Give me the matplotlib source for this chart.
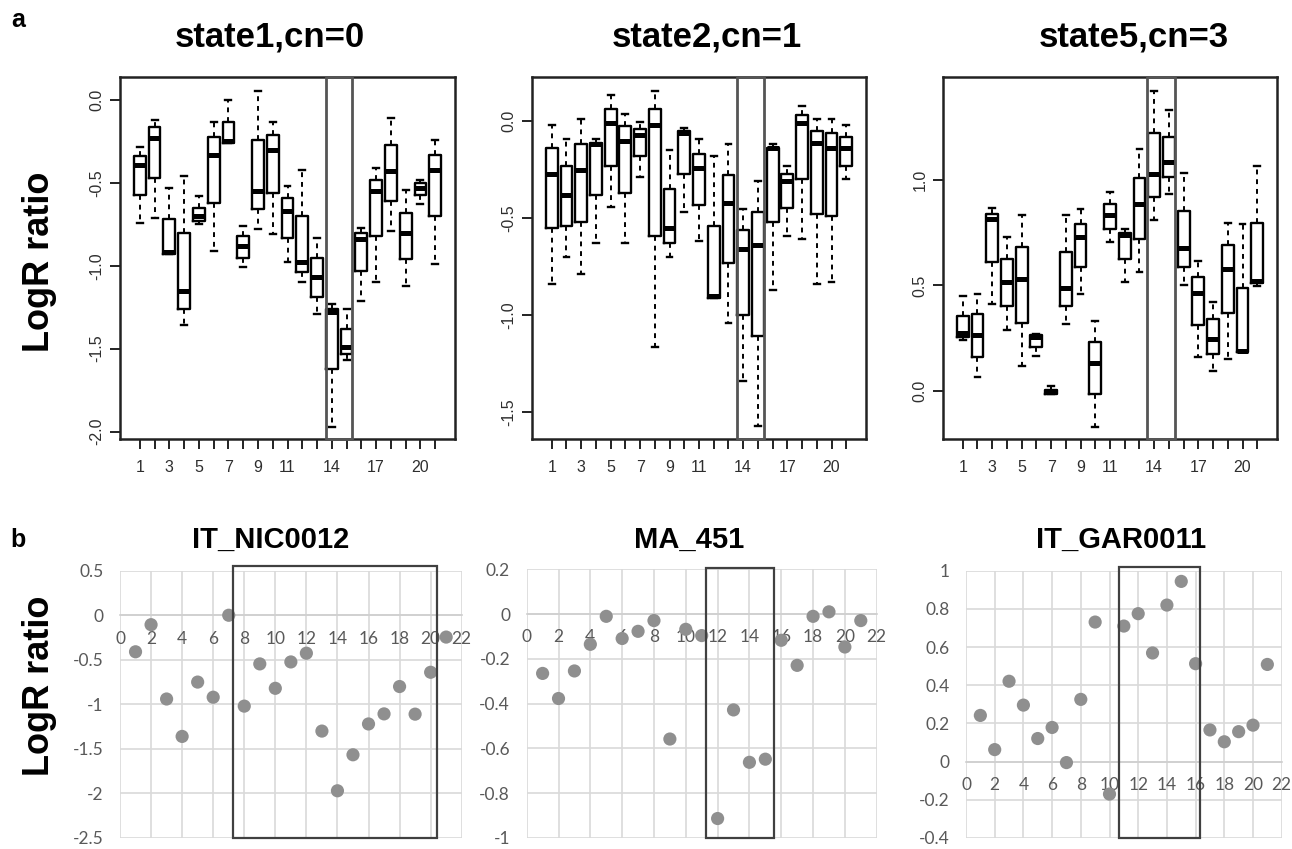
import matplotlib
matplotlib.use("Agg")
import matplotlib.pyplot as plt
import matplotlib.transforms as mtransforms
from matplotlib.patches import Rectangle

W, H = 1292, 849

positions = [1, 2, 3, 4, 5, 6, 7, 8, 9, 10, 11, 12, 13, 14, 15, 16, 17, 18, 19, 20, 21]
box_tick_labels = ['1', '', '3', '', '5', '', '7', '', '9', '', '11', '', '',
                   '14', '', '', '17', '', '', '20', '']

# a) boxplots, state1,cn=0
s1_lo = [-0.74, -0.71, -0.93, -1.36, -0.75, -0.91, -0.26, -1.01, -0.78, -0.81, -0.98,
         -1.10, -1.29, -1.97, -1.57, -1.21, -1.10, -0.79, -1.12, -0.63, -0.99]
s1_q1 = [-0.57, -0.47, -0.93, -1.26, -0.73, -0.62, -0.26, -0.95, -0.66, -0.56, -0.83,
         -1.04, -1.19, -1.62, -1.53, -1.03, -0.82, -0.61, -0.96, -0.57, -0.70]
s1_med = [-0.39, -0.23, -0.915, -1.15, -0.70, -0.33, -0.25, -0.88, -0.55, -0.30, -0.67,
          -0.975, -1.07, -1.28, -1.49, -0.84, -0.55, -0.43, -0.80, -0.53, -0.42]
s1_q3 = [-0.34, -0.165, -0.72, -0.80, -0.65, -0.22, -0.13, -0.82, -0.24, -0.21, -0.59,
         -0.70, -0.95, -1.26, -1.38, -0.80, -0.48, -0.27, -0.68, -0.50, -0.33]
s1_hi = [-0.285, -0.12, -0.53, -0.46, -0.58, -0.13, 0.0, -0.76, 0.056, -0.13, -0.52,
         -0.42, -0.83, -1.23, -1.26, -0.77, -0.41, -0.11, -0.54, -0.48, -0.24]

# state2,cn=1
s2_lo = [-0.84, -0.70, -0.79, -0.63, -0.44, -0.63, -0.29, -1.165, -0.70, -0.47, -0.62,
         -0.91, -1.04, -1.34, -1.57, -0.87, -0.59, -0.61, -0.84, -0.83, -0.30]
s2_q1 = [-0.55, -0.54, -0.52, -0.38, -0.23, -0.37, -0.18, -0.59, -0.63, -0.27, -0.43,
         -0.91, -0.73, -1.00, -1.11, -0.52, -0.45, -0.30, -0.48, -0.49, -0.23]
s2_med = [-0.27, -0.38, -0.25, -0.12, -0.01, -0.10, -0.07, -0.017, -0.55, -0.06, -0.24,
          -0.90, -0.42, -0.66, -0.64, -0.14, -0.31, -0.01, -0.11, -0.14, -0.14]
s2_q3 = [-0.14, -0.23, -0.12, -0.11, 0.062, -0.026, -0.04, 0.062, -0.35, -0.05, -0.17,
         -0.54, -0.275, -0.56, -0.47, -0.136, -0.27, 0.034, -0.05, -0.063, -0.08]
s2_hi = [-0.017, -0.09, 0.009, -0.09, 0.134, 0.039, -0.003, 0.156, -0.15, -0.033, -0.09,
         -0.18, -0.12, -0.455, -0.31, -0.118, -0.23, 0.077, 0.009, 0.009, -0.021]

# state5,cn=3
s5_lo = [0.242, 0.065, 0.41, 0.29, 0.118, 0.167, -0.015, 0.318, 0.46, -0.172, 0.705,
         0.518, 0.562, 0.81, 0.934, 0.502, 0.16, 0.096, 0.152, 0.186, 0.498]
s5_q1 = [0.254, 0.16, 0.613, 0.403, 0.324, 0.21, -0.014, 0.403, 0.589, -0.014, 0.768,
         0.624, 0.719, 0.921, 1.013, 0.589, 0.31, 0.174, 0.368, 0.186, 0.51]
s5_med = [0.276, 0.265, 0.814, 0.518, 0.531, 0.257, -0.003, 0.49, 0.728, 0.131, 0.834,
          0.739, 0.886, 1.028, 1.087, 0.676, 0.463, 0.246, 0.577, 0.191, 0.521]
s5_q3 = [0.357, 0.365, 0.839, 0.624, 0.681, 0.264, 0.005, 0.66, 0.79, 0.231, 0.889,
         0.747, 1.011, 1.226, 1.205, 0.855, 0.539, 0.34, 0.692, 0.49, 0.798]
s5_hi = [0.452, 0.458, 0.87, 0.731, 0.833, 0.269, 0.021, 0.833, 0.861, 0.329, 0.945,
         0.768, 1.15, 1.423, 1.332, 1.035, 0.616, 0.42, 0.795, 0.79, 1.069]

# b) Excel style dot plots
nic0012 = [-0.41, -0.106, -0.94, -1.36, -0.75, -0.92, 0.0, -1.02, -0.546, -0.82, -0.524,
           -0.426, -1.30, -1.97, -1.566, -1.22, -1.107, -0.80, -1.11, -0.64, -0.245]
ma451 = [-0.265, -0.377, -0.254, -0.135, -0.010, -0.109, -0.077, -0.029, -0.558, -0.068, -0.096,
         -0.913, -0.428, -0.662, -0.648, -0.117, -0.229, -0.010, 0.010, -0.147, -0.029]
gar0011 = [0.242, 0.063, 0.421, 0.296, 0.121, 0.179, -0.005, 0.326, 0.731, -0.170, 0.710,
           0.775, 0.569, 0.820, 0.944, 0.513, 0.166, 0.104, 0.157, 0.191, 0.509]

dot_xticks = [0, 2, 4, 6, 8, 10, 12, 14, 16, 18, 20, 22]


def px_axes(fig, left, top, right, bottom):
    return fig.add_axes([left / W, 1 - bottom / H, (right - left) / W, (bottom - top) / H])


def box_panel(ax, lo, q1, med, q3, hi, ylim, yticks, span):
    stats = []
    for i in range(len(positions)):
        stats.append(dict(whislo=lo[i], q1=q1[i], med=med[i], q3=q3[i], whishi=hi[i], fliers=[]))
    ax.bxp(stats, positions=positions, widths=0.8, capwidths=0.4, showfliers=False,
           boxprops=dict(color='black', linewidth=1.7),
           medianprops=dict(color='black', linewidth=3.6, solid_capstyle='butt'),
           whiskerprops=dict(color='black', linewidth=1.4, linestyle=(0, (2.5, 2.5))),
           capprops=dict(color='black', linewidth=1.7))
    ax.set_xlim(-0.34, 22.34)
    ax.set_ylim(ylim)
    ax.set_xticks(positions)
    ax.set_xticklabels(box_tick_labels)
    ax.set_yticks(yticks)
    ax.set_yticklabels(['%.1f' % v for v in yticks], rotation=90, va='center')
    ax.tick_params(axis='both', length=7, width=1.4, color='#222222', labelcolor='#2e2e2e',
                   labelsize=11.5, pad=4)
    ax.tick_params(axis='x', pad=8)
    for sp in ax.spines.values():
        sp.set_linewidth(1.8)
        sp.set_color('#222222')
    trans = mtransforms.blended_transform_factory(ax.transData, ax.transAxes)
    ax.add_patch(Rectangle((span[0], 0), span[1] - span[0], 1, transform=trans, fill=False,
                           edgecolor='#555555', linewidth=2, clip_on=False, zorder=5))


def dot_panel(ax, ys, ylim, yticks, rect):
    ax.scatter(positions, ys, s=90, color='#8f8f8f', edgecolors='none', zorder=3, clip_on=False)
    ax.set_xlim(0, 22)
    ax.set_ylim(ylim)
    ax.set_xticks(dot_xticks)
    ax.set_yticks(yticks)
    ax.set_yticklabels(['%g' % round(v, 2) for v in yticks])
    ax.grid(True, color='#d9d9d9', linewidth=1.2)
    ax.set_axisbelow(True)
    for side in ['top', 'right', 'left']:
        ax.spines[side].set_visible(False)
    ax.spines['bottom'].set_position(('data', 0))
    ax.spines['bottom'].set_color('#cfcfcf')
    ax.spines['bottom'].set_linewidth(1.2)
    ax.tick_params(axis='both', length=0, labelcolor='#595959', labelsize=12.5)
    ax.tick_params(axis='y', pad=12)
    ax.tick_params(axis='x', pad=11)
    for lab in ax.get_xticklabels() + ax.get_yticklabels():
        lab.set_fontfamily('Lato')
    ax.add_patch(Rectangle((rect[0], rect[1]), rect[2] - rect[0], rect[3] - rect[1], fill=False,
                           edgecolor='#404040', linewidth=1.6, clip_on=False, zorder=4))


plt.rcParams['font.family'] = ['Liberation Sans', 'DejaVu Sans']
fig = plt.figure(figsize=(W / 100, H / 100), dpi=100)

a1 = px_axes(fig, 120, 77, 455, 439)
box_panel(a1, s1_lo, s1_q1, s1_med, s1_q3, s1_hi, (-2.045, 0.139),
          [0.0, -0.5, -1.0, -1.5, -2.0], (13.6, 15.4))
a2 = px_axes(fig, 532, 77, 866, 439)
box_panel(a2, s2_lo, s2_q1, s2_med, s2_q3, s2_hi, (-1.639, 0.228),
          [0.0, -0.5, -1.0, -1.5], (13.55, 15.41))
a3 = px_axes(fig, 943, 77, 1277, 439)
box_panel(a3, s5_lo, s5_q1, s5_med, s5_q3, s5_hi, (-0.229, 1.49),
          [0.0, 0.5, 1.0], (13.5, 15.44))

b1 = px_axes(fig, 120, 570.7, 461.7, 838)
dot_panel(b1, nic0012, (-2.5, 0.5), [0.5, 0, -0.5, -1, -1.5, -2, -2.5], (7.3, -2.5, 20.4, 0.55))
b2 = px_axes(fig, 526.7, 569.3, 876.7, 838)
dot_panel(b2, ma451, (-1, 0.2), [0.2, 0, -0.2, -0.4, -0.6, -0.8, -1], (11.28, -1, 15.55, 0.206))
b3 = px_axes(fig, 966, 570.7, 1281.7, 838)
dot_panel(b3, gar0011, (-0.4, 1), [1, 0.8, 0.6, 0.4, 0.2, 0, -0.2, -0.4], (10.68, -0.4, 16.3, 1.02))

# titles and labels
for x, t in [(270, 'state1,cn=0'), (707, 'state2,cn=1'), (1134, 'state5,cn=3')]:
    fig.text(x / W, 1 - 37 / H, t, fontsize=25, fontweight='bold', ha='center', va='center')
for x, t in [(271, 'IT_NIC0012'), (689, 'MA_451'), (1121, 'IT_GAR0011')]:
    fig.text(x / W, 1 - 540 / H, t, fontsize=21, fontweight='bold', ha='center', va='center')
for y in [262, 686]:
    fig.text(40 / W, 1 - y / H, 'LogR ratio', fontsize=26, fontweight='bold', rotation=90,
             ha='center', va='center')
fig.text(18 / W, 1 - 20 / H, 'a', fontsize=18, fontweight='bold', ha='center', va='center')
fig.text(18 / W, 1 - 540 / H, 'b', fontsize=18, fontweight='bold', ha='center', va='center')

fig.savefig('out.png', dpi=100)
